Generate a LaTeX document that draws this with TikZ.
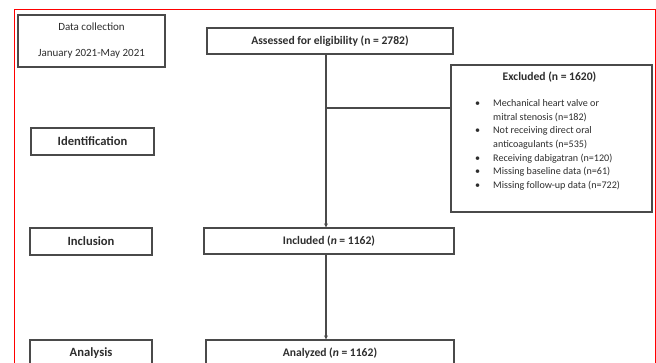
\documentclass[tikz,border=0pt]{standalone}
\usepackage{fontspec}
\setmainfont{Carlito}
\usetikzlibrary{arrows.meta}
\definecolor{boxline}{HTML}{4A4A4A}
\definecolor{txt}{HTML}{2E2E2E}
\tikzset{
  box/.style={draw=boxline, line width=1.2pt, inner sep=0pt, text=txt, font=\fontsize{11.6}{13}\selectfont\bfseries},
  sidebox/.style={box, font=\fontsize{12.6}{14}\selectfont\bfseries},
  conn/.style={draw=boxline, line width=1.1pt},
  arr/.style={conn, -{Stealth[length=4pt,width=4pt]}},
}
\begin{document}
\begin{tikzpicture}[x=1pt,y=-1pt]
\useasboundingbox (0,0) rectangle (656,363);
\clip (0,0) rectangle (656,363);
\fill[white] (0,0) rectangle (656,363);
% red frame
\draw[red, line width=1pt] (14,380) -- (14,10) -- (655,10) -- (655,380);
% left column
\node[box, minimum width=147, minimum height=52, align=center, font=\fontsize{11}{26}\selectfont] (dc) at (91.5,41) {Data collection\\January 2021-May 2021};
\node[sidebox, minimum width=123, minimum height=27] (ident) at (92.5,141.5) {Identification};
\node[sidebox, minimum width=122, minimum height=27] (inclu) at (91,241.5) {Inclusion};
\node[sidebox, minimum width=122, minimum height=27] (anal) at (91,353.5) {Analysis};
% main column
\node[box, minimum width=246, minimum height=26] (assess) at (330,41) {Assessed for eligibility (n = 2782)};
\node[box, minimum width=250, minimum height=26] (incl) at (329,241) {Included (\textit{n} = 1162)};
\node[box, minimum width=248, minimum height=27] (analyzed) at (330,353.5) {Analyzed (\textit{n} = 1162)};
% excluded
\node[box, minimum width=201, minimum height=147] (excl) at (551.5,138.5) {};
\node[text=txt, font=\fontsize{11.6}{13}\selectfont\bfseries, inner sep=0pt] (exttl) at (549.5,77) {Excluded (n = 1620)};
\node[text=txt, font=\fontsize{10.1}{13.6}\selectfont, inner sep=0pt, anchor=north west, align=left] (exlist) at (475,97) {%
\begin{tabular}{@{}p{18pt}@{}l@{}}
\textbullet & Mechanical heart valve or\\
 & mitral stenosis (n=182)\\
\textbullet & Not receiving direct oral\\
 & anticoagulants (n=535)\\
\textbullet & Receiving dabigatran (n=120)\\
\textbullet & Missing baseline data (n=61)\\
\textbullet & Missing follow-up data (n=722)
\end{tabular}};
% connectors
\coordinate (trunk) at (326,0);
\coordinate (branch) at (326,108);
\draw[arr] (assess.south -| trunk) -- (incl.north -| trunk);
\draw[conn] (branch) -- (branch -| excl.west);
\draw[arr] (incl.south -| trunk) -- (analyzed.north -| trunk);
\end{tikzpicture}
\end{document}
